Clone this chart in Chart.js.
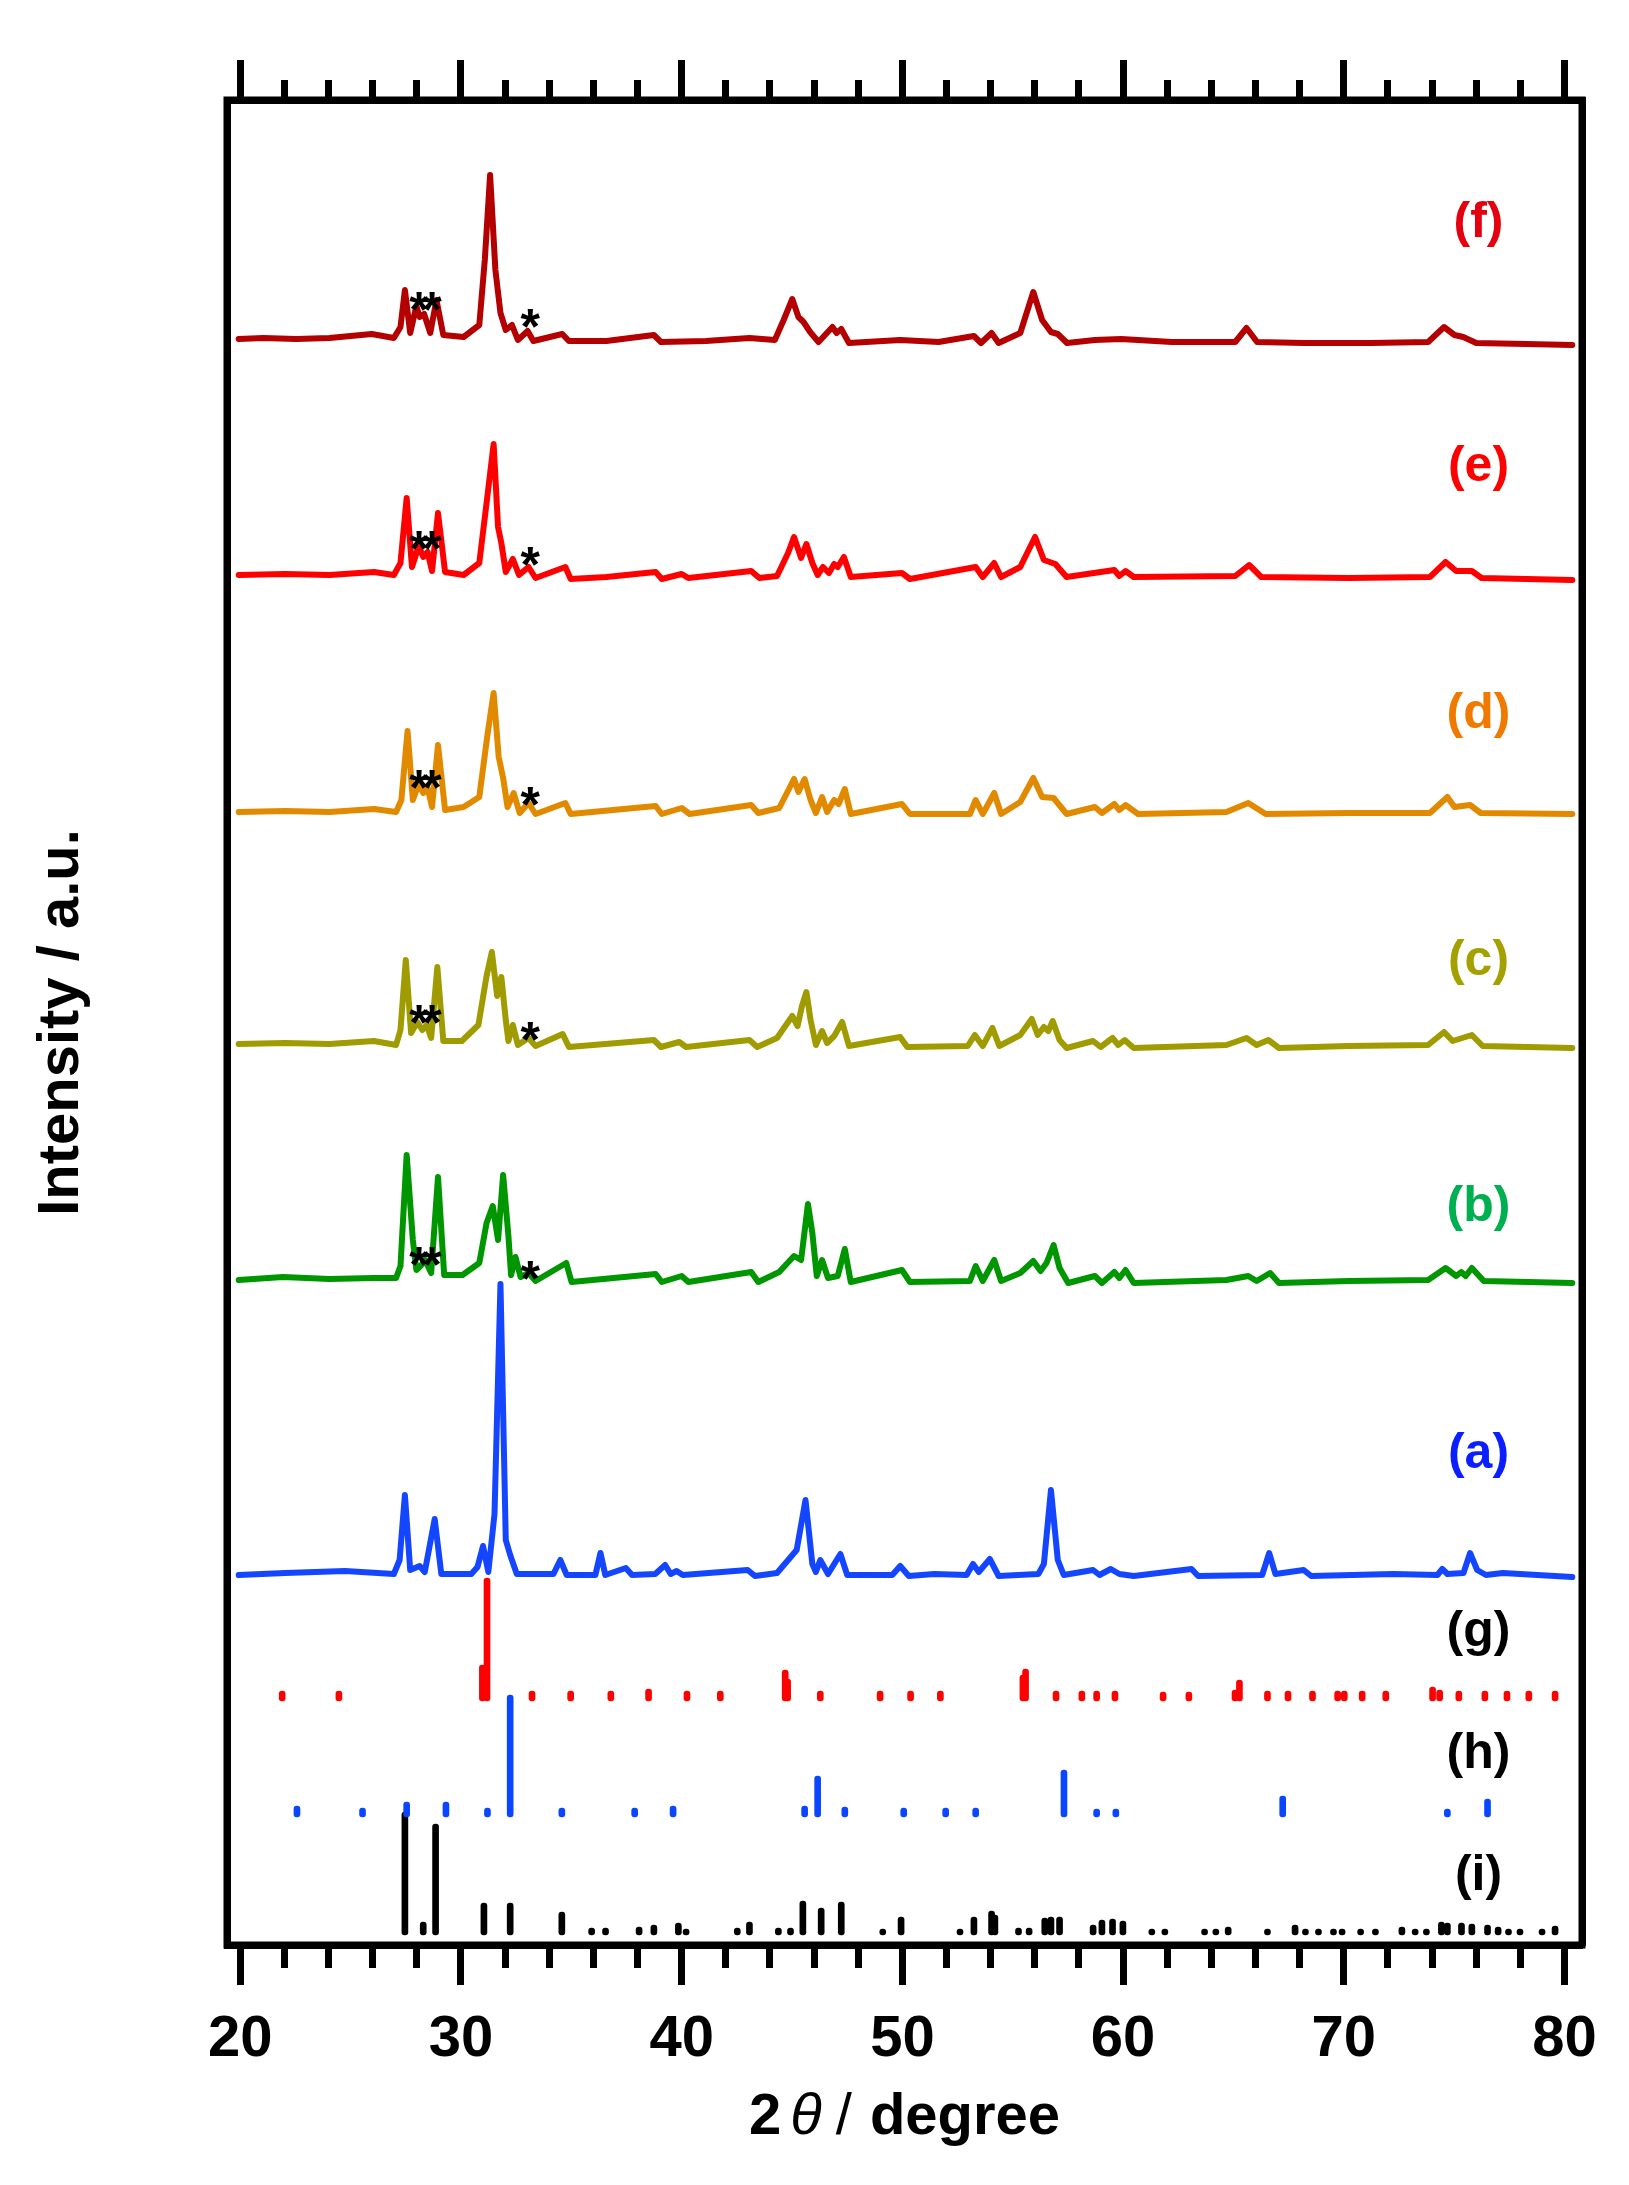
<!DOCTYPE html>
<html lang="en">
<head>
    <meta charset="UTF-8">
    <meta name="viewport" content="width=device-width, initial-scale=1.0">
    <title>XRD patterns</title>
    <style>
        html, body {
            margin: 0;
            padding: 0;
            background: #fff;
        }
        .plot {
            width: 1629px;
            height: 2185px;
            position: relative;
        }
    </style>
</head>
<body>
    <div class="plot">
        <canvas id="chart1"></canvas>
    </div>
    <script src="https://cdn.jsdelivr.net/npm/chart.js@4.4.1/dist/chart.umd.min.js"></script>
    <script>
        // 2theta positions and intensities (baseline removed) of each measured pattern
        const aX = [19.93, 22.04, 24.75, 26.96, 27.22, 27.46, 27.7, 28.13, 28.36, 28.81, 29.11, 30.47, 30.75, 31.0, 31.24, 31.52, 31.79, 32.03, 32.23, 32.53, 34.19, 34.5, 34.79, 36.09, 36.32, 36.54, 37.47, 37.75, 38.8, 39.25, 39.5, 39.77, 40.05, 42.99, 43.32, 44.32, 45.21, 45.61, 45.92, 46.08, 46.28, 46.63, 47.19, 47.5, 49.54, 49.9, 50.29, 51.44, 52.91, 53.2, 53.46, 53.96, 54.36, 56.16, 56.41, 56.73, 57.04, 57.31, 58.64, 58.93, 59.44, 59.83, 60.48, 63.1, 63.4, 66.3, 66.62, 66.9, 68.18, 68.52, 72.24, 74.24, 74.46, 74.69, 75.42, 75.72, 76.04, 76.44, 77.2, 80.35];
        const aI = [2, 4, 6, 3, 17, 82, 7, 11, 5, 58, 3, 3, 10, 31, 5, 63, 293, 37, 22, 3, 3, 17, 2, 2, 24, 2, 9, 2, 3, 12, 3, 6, 2, 7, 1, 4, 27, 77, 13, 5, 17, 3, 23, 2, 2, 11, 1, 3, 2, 13, 5, 18, 1, 3, 13, 87, 17, 2, 7, 2, 8, 3, 1, 8, 1, 2, 24, 3, 7, 1, 3, 2, 8, 3, 4, 24, 7, 2, 4, 0];

        const bX = [19.93, 21.94, 24.04, 26.06, 27.06, 27.26, 27.54, 27.82, 27.98, 28.21, 28.37, 28.65, 28.96, 29.24, 30.07, 30.83, 31.16, 31.44, 31.68, 31.91, 32.15, 32.27, 32.47, 32.7, 33.06, 33.38, 34.77, 35.01, 38.82, 39.1, 40.0, 40.3, 43.15, 43.47, 44.42, 45.09, 45.41, 45.72, 45.92, 46.12, 46.36, 46.63, 47.07, 47.39, 47.66, 49.98, 50.34, 53.06, 53.32, 53.64, 54.16, 54.47, 55.34, 55.93, 56.26, 56.53, 56.85, 57.12, 57.51, 58.72, 59.04, 59.6, 59.83, 60.11, 60.48, 64.68, 65.67, 66.05, 66.66, 67.06, 70.22, 73.82, 74.61, 75.09, 75.32, 75.52, 75.8, 76.34, 80.35];
        const bI = [3, 6, 4, 5, 5, 17, 128, 43, 13, 18, 23, 10, 106, 8, 8, 20, 60, 77, 43, 108, 47, 8, 26, 6, 10, 2, 20, 1, 9, 1, 7, 1, 11, 1, 11, 27, 23, 79, 50, 7, 23, 5, 7, 34, 1, 13, 1, 2, 17, 2, 23, 2, 10, 22, 12, 20, 38, 15, 0, 7, 0, 11, 5, 13, 0, 3, 7, 2, 10, 0, 2, 3, 15, 7, 11, 7, 15, 2, 0];

        const cX = [19.93, 22.04, 24.04, 26.06, 27.06, 27.26, 27.5, 27.74, 28.02, 28.25, 28.45, 28.65, 28.93, 29.2, 30.04, 30.79, 31.16, 31.4, 31.64, 31.83, 32.03, 32.15, 32.35, 32.58, 33.06, 33.38, 34.61, 34.89, 38.74, 39.06, 39.89, 40.2, 43.07, 43.42, 44.32, 45.01, 45.25, 45.45, 45.65, 45.84, 46.08, 46.36, 46.59, 46.91, 47.27, 47.58, 49.9, 50.22, 52.96, 53.28, 53.64, 54.08, 54.39, 55.34, 55.86, 56.13, 56.41, 56.61, 56.81, 57.12, 57.44, 58.64, 58.98, 59.52, 59.78, 60.07, 60.48, 64.68, 65.59, 66.05, 66.58, 67.06, 70.22, 73.82, 74.54, 74.93, 75.8, 76.29, 80.35];
        const cI = [4, 5, 4, 7, 3, 18, 88, 15, 26, 18, 23, 10, 81, 7, 7, 23, 72, 96, 52, 71, 28, 7, 23, 3, 10, 2, 14, 1, 8, 1, 6, 1, 8, 1, 10, 32, 22, 42, 56, 28, 3, 17, 5, 12, 26, 2, 11, 1, 2, 13, 2, 20, 2, 13, 29, 13, 21, 17, 27, 8, 0, 7, 1, 10, 3, 8, 0, 3, 10, 3, 8, 0, 2, 3, 16, 7, 13, 2, 0];

        const dX = [19.93, 22.04, 24.04, 26.06, 27.06, 27.3, 27.58, 27.82, 28.09, 28.29, 28.49, 28.69, 28.96, 29.28, 30.12, 30.83, 31.2, 31.48, 31.71, 31.91, 32.11, 32.39, 32.66, 33.06, 33.38, 34.73, 34.97, 38.82, 39.1, 40.0, 40.36, 43.15, 43.47, 44.42, 45.09, 45.29, 45.57, 45.84, 46.08, 46.36, 46.59, 46.91, 47.11, 47.39, 47.66, 49.98, 50.34, 53.06, 53.32, 53.64, 54.16, 54.47, 55.34, 55.93, 56.33, 56.85, 57.44, 58.72, 59.04, 59.6, 59.83, 60.11, 60.68, 64.68, 65.67, 66.46, 70.22, 73.9, 74.69, 75.01, 75.72, 76.2, 80.35];
        const dI = [2, 3, 2, 5, 2, 14, 83, 14, 30, 21, 26, 7, 69, 4, 7, 17, 79, 121, 57, 36, 7, 21, 1, 11, 0, 11, 0, 8, 0, 6, 0, 9, 1, 6, 35, 22, 35, 14, 1, 17, 2, 14, 10, 25, 0, 10, 0, 0, 14, 0, 21, 0, 12, 36, 17, 16, 0, 7, 1, 10, 4, 9, 0, 2, 11, 0, 1, 1, 17, 7, 9, 1, 0];

        const eX = [19.93, 22.04, 24.04, 26.06, 26.96, 27.26, 27.54, 27.78, 28.09, 28.29, 28.49, 28.69, 28.96, 29.28, 30.12, 30.83, 31.16, 31.48, 31.68, 31.83, 32.03, 32.35, 32.63, 33.06, 33.38, 34.73, 34.97, 36.59, 38.82, 39.1, 40.0, 40.3, 43.15, 43.52, 44.32, 44.82, 45.09, 45.41, 45.65, 45.92, 46.16, 46.4, 46.67, 46.91, 47.07, 47.35, 47.66, 49.98, 50.34, 53.32, 53.64, 54.16, 54.47, 55.34, 56.01, 56.41, 56.93, 57.44, 59.6, 59.83, 60.11, 60.48, 65.08, 65.71, 66.26, 70.22, 73.9, 74.61, 75.09, 75.8, 76.24, 80.35];
        const eI = [5, 6, 5, 8, 5, 17, 82, 13, 34, 23, 28, 9, 67, 8, 5, 17, 77, 136, 53, 37, 8, 21, 5, 13, 2, 13, 1, 3, 8, 1, 6, 2, 9, 2, 4, 27, 43, 22, 36, 17, 5, 13, 7, 16, 13, 23, 3, 7, 1, 13, 3, 17, 3, 13, 43, 20, 16, 3, 10, 4, 9, 3, 4, 15, 3, 2, 3, 18, 9, 9, 2, 0];

        const fX = [19.93, 21.04, 22.54, 24.04, 25.96, 26.96, 27.26, 27.46, 27.7, 27.98, 28.13, 28.33, 28.61, 28.89, 29.2, 30.12, 30.83, 31.08, 31.32, 31.56, 31.79, 32.03, 32.31, 32.58, 33.02, 33.28, 34.59, 34.89, 36.59, 38.74, 39.06, 41.1, 43.07, 44.22, 44.62, 45.01, 45.29, 45.52, 45.82, 46.2, 46.83, 47.02, 47.23, 47.58, 49.9, 51.64, 53.24, 53.56, 54.04, 54.36, 55.34, 55.93, 56.33, 56.73, 57.04, 57.46, 58.72, 59.91, 62.2, 65.08, 65.59, 66.07, 68.22, 71.22, 73.82, 74.54, 75.01, 75.41, 76.0, 78.25, 80.35];
        const fI = [6, 7, 6, 7, 11, 7, 18, 55, 12, 39, 28, 31, 12, 45, 10, 8, 20, 85, 170, 75, 32, 15, 20, 5, 14, 4, 11, 4, 4, 10, 3, 4, 7, 5, 25, 46, 28, 23, 13, 3, 18, 12, 16, 2, 5, 3, 9, 2, 12, 2, 12, 53, 25, 13, 11, 2, 5, 6, 3, 3, 17, 3, 2, 2, 3, 18, 10, 8, 2, 1, 0];

        // reference stick patterns (g), (h), (i)
        const gX = [21.9, 24.47, 30.97, 31.18, 33.22, 34.97, 36.79, 38.5, 40.24, 41.75, 44.69, 44.8, 46.28, 48.99, 50.37, 51.72, 55.46, 55.58, 56.96, 58.13, 58.8, 59.63, 61.81, 62.98, 65.07, 65.27, 66.54, 67.47, 68.58, 69.72, 70.02, 70.83, 71.9, 74.02, 74.34, 75.21, 76.39, 77.39, 78.38, 79.57];
        const gI = [10, 10, 36, 123, 10, 10, 10, 12, 10, 10, 31, 22, 10, 10, 10, 10, 26, 32, 10, 10, 10, 10, 9, 9, 11, 21, 10, 10, 10, 10, 10, 10, 10, 14, 11, 10, 10, 10, 10, 10];

        const hX = [22.57, 25.54, 27.54, 29.32, 31.2, 32.23, 34.57, 37.87, 39.61, 45.57, 46.16, 47.39, 50.06, 51.96, 53.32, 57.32, 58.8, 59.67, 67.23, 74.69, 76.51];
        const hI = [11, 9, 15, 15, 9, 122, 9, 9, 11, 11, 41, 10, 9, 9, 9, 47, 8, 8, 21, 8, 18];

        const iX = [27.46, 28.29, 28.85, 31.04, 32.23, 34.57, 35.92, 36.55, 38.07, 38.74, 39.85, 40.2, 42.52, 43.07, 44.38, 44.93, 45.49, 46.32, 47.23, 49.11, 49.94, 52.61, 53.24, 54.04, 54.19, 55.26, 55.74, 56.45, 56.73, 57.12, 58.64, 59.04, 59.52, 59.99, 61.3, 61.89, 63.69, 64.2, 64.76, 66.54, 67.79, 68.26, 68.85, 69.53, 69.92, 70.76, 71.43, 72.63, 73.23, 73.74, 74.42, 74.69, 75.33, 75.8, 76.51, 76.99, 77.46, 77.98, 78.98, 79.57];
        const iI = [123, 13, 111, 32, 32, 23, 7, 7, 8, 10, 12, 6, 7, 13, 7, 7, 34, 27, 33, 6, 18, 6, 18, 24, 20, 7, 7, 17, 18, 18, 10, 15, 16, 14, 6, 6, 6, 6, 8, 6, 10, 6, 6, 6, 6, 6, 6, 8, 6, 6, 13, 12, 12, 11, 10, 8, 6, 6, 6, 9];

        // vertical offset of each pattern, (a) ... (i)
        const baseLevels = [368, 662, 897, 1131, 1365, 1600, 244, 128, 10];
        const patternNames = ['(a)', '(b)', '(c)', '(d)', '(e)', '(f)', '(g)', '(h)', '(i)'];
        const labelX = 76.1;
        const labelY = [490, 737, 983, 1230, 1477, 1721, 312, 190, 68];

        // asterisk marks on (b) ... (f)
        const starX = [28.1, 28.69, 33.14];
        const starPairY = [692, 934, 1169, 1408, 1647];
        const starSingleY = [678, 917, 1152, 1392, 1630];

        const xTicks = [20, 22, 24, 26, 28, 30, 32, 34, 36, 38, 40, 42, 44, 46, 48, 50, 52, 54, 56, 58, 60, 62, 64, 66, 68, 70, 72, 74, 76, 78, 80];

        const lineColors = ['#1446ff', '#009600', '#a09b00', '#e18a00', '#ff0000', '#b40000'];
        const stickColors = ['#ff0000', '#0a46ff', '#000000'];
        const labelColors = ['#0a1eff', '#00b050', '#a3a000', '#f07a00', '#ff0000', '#e4000f', '#000000', '#000000', '#000000'];

        const fam = "'Liberation Sans', Arial, sans-serif";
        Chart.defaults.font.family = fam;
        Chart.defaults.color = '#000';

        const curveX = [aX, bX, cX, dX, eX, fX];
        const curveI = [aI, bI, cI, dI, eI, fI];
        const stickX = [gX, hX, iX];
        const stickI = [gI, hI, iI];

        const datasets = [];
        curveX.forEach((xs, k) => {
            datasets.push({
                type: 'line',
                data: xs.map((x, j) => ({x: x, y: baseLevels[k] + curveI[k][j]})),
                borderColor: lineColors[k],
                borderWidth: 6,
                borderJoinStyle: 'round',
                borderCapStyle: 'round',
                pointRadius: 0,
                tension: 0,
                fill: false
            });
        });
        stickX.forEach((xs, k) => {
            const b = baseLevels[6 + k];
            datasets.push({
                type: 'bar',
                data: xs.map((x, j) => ({x: x, y: [b, b + stickI[k][j]]})),
                backgroundColor: stickColors[k],
                barThickness: 6,
                borderRadius: 3,
                borderSkipped: false,
                grouped: false
            });
        });

        // minor ticks: only part of the tick line is painted
        const isMajor = (c) => c.tick && c.tick.value % 10 === 0;

        // frame, pattern labels, asterisks and the x title
        const decor = {
            id: 'decor',
            afterDraw(chart) {
                const ctx = chart.ctx;
                const area = chart.chartArea;
                const xs = chart.scales.x;
                const ys = chart.scales.y;
                ctx.save();
                ctx.lineWidth = 7;
                ctx.strokeStyle = '#000';
                ctx.strokeRect(area.left, area.top, area.right - area.left, area.bottom - area.top);

                ctx.textAlign = 'center';
                ctx.textBaseline = 'alphabetic';
                ctx.font = 'bold 50px ' + fam;
                patternNames.forEach((t, k) => {
                    ctx.fillStyle = labelColors[k];
                    ctx.fillText(t, xs.getPixelForValue(labelX), ys.getPixelForValue(labelY[k]) + 13);
                });

                ctx.fillStyle = '#000';
                ctx.font = 'bold 50px ' + fam;
                starPairY.forEach((v, k) => {
                    ctx.fillText('*', xs.getPixelForValue(starX[0]), ys.getPixelForValue(v) + 29);
                    ctx.fillText('*', xs.getPixelForValue(starX[1]), ys.getPixelForValue(v) + 29);
                    ctx.fillText('*', xs.getPixelForValue(starX[2]), ys.getPixelForValue(starSingleY[k]) + 29);
                });

                // 2θ / degree with an italic theta
                const parts = [
                    {t: '2', f: 'bold 58px ' + fam, gap: 9},
                    {t: 'θ', f: 'italic 58px ' + fam, gap: 14},
                    {t: '/', f: '58px ' + fam, gap: 2},
                    {t: ' degree', f: 'bold 58px ' + fam, gap: 0}
                ];
                let total = 0;
                parts.forEach(p => {
                    ctx.font = p.f;
                    p.w = ctx.measureText(p.t).width;
                    total += p.w + p.gap;
                });
                let px = (area.left + area.right) / 2 - total / 2;
                const py = area.bottom + 189;
                ctx.textAlign = 'left';
                parts.forEach(p => {
                    ctx.font = p.f;
                    ctx.fillText(p.t, px, py);
                    px += p.w + p.gap;
                });
                ctx.restore();
            }
        };

        new Chart(chart1, {
            type: 'line',
            data: {datasets: datasets},
            plugins: [decor],
            options: {
                responsive: true,
                maintainAspectRatio: false,
                animation: false,
                devicePixelRatio: 1,
                events: [],
                layout: {padding: 0},
                plugins: {
                    legend: {display: false},
                    tooltip: {enabled: false}
                },
                scales: {
                    x: {
                        type: 'linear',
                        position: 'bottom',
                        min: 19.4,
                        max: 80.79,
                        offset: false,
                        afterBuildTicks: (s) => { s.ticks = xTicks.map(v => ({value: v})); },
                        afterFit: (s) => { s.height = 240; },
                        ticks: {
                            autoSkip: false,
                            maxRotation: 0,
                            padding: 20,
                            font: {size: 58, weight: 'bold'},
                            color: '#000',
                            callback: (v) => (v % 10 === 0 ? String(v) : '')
                        },
                        grid: {
                            offset: false,
                            drawOnChartArea: false,
                            drawTicks: true,
                            tickLength: 40,
                            tickWidth: 7,
                            tickColor: '#000',
                            tickBorderDash: (c) => (isMajor(c) ? [] : [19, 20]),
                            tickBorderDashOffset: 0
                        },
                        border: {display: true, width: 7, color: '#000'}
                    },
                    x2: {
                        type: 'linear',
                        position: 'top',
                        min: 19.4,
                        max: 80.79,
                        offset: false,
                        afterBuildTicks: (s) => { s.ticks = xTicks.map(v => ({value: v})); },
                        afterFit: (s) => { s.height = 100; },
                        ticks: {display: false},
                        grid: {
                            offset: false,
                            drawOnChartArea: false,
                            drawTicks: true,
                            tickLength: 40,
                            tickWidth: 7,
                            tickColor: '#000',
                            tickBorderDash: (c) => (isMajor(c) ? [] : [17, 20]),
                            tickBorderDashOffset: (c) => (isMajor(c) ? 0 : 17)
                        },
                        border: {display: true, width: 7, color: '#000'}
                    },
                    y: {
                        type: 'linear',
                        position: 'left',
                        min: 0,
                        max: 1845,
                        afterFit: (s) => { s.width = 227; },
                        ticks: {display: false},
                        grid: {drawOnChartArea: false, drawTicks: false},
                        border: {display: true, width: 7, color: '#000'},
                        title: {
                            display: true,
                            text: 'Intensity / a.u.',
                            color: '#000',
                            font: {size: 58, weight: 'bold'},
                            padding: {top: 27, bottom: 0}
                        }
                    },
                    y2: {
                        type: 'linear',
                        position: 'right',
                        min: 0,
                        max: 1845,
                        afterFit: (s) => { s.width = 47; },
                        ticks: {display: false},
                        grid: {drawOnChartArea: false, drawTicks: false},
                        border: {display: true, width: 7, color: '#000'}
                    }
                }
            }
        });
    </script>
</body>
</html>
